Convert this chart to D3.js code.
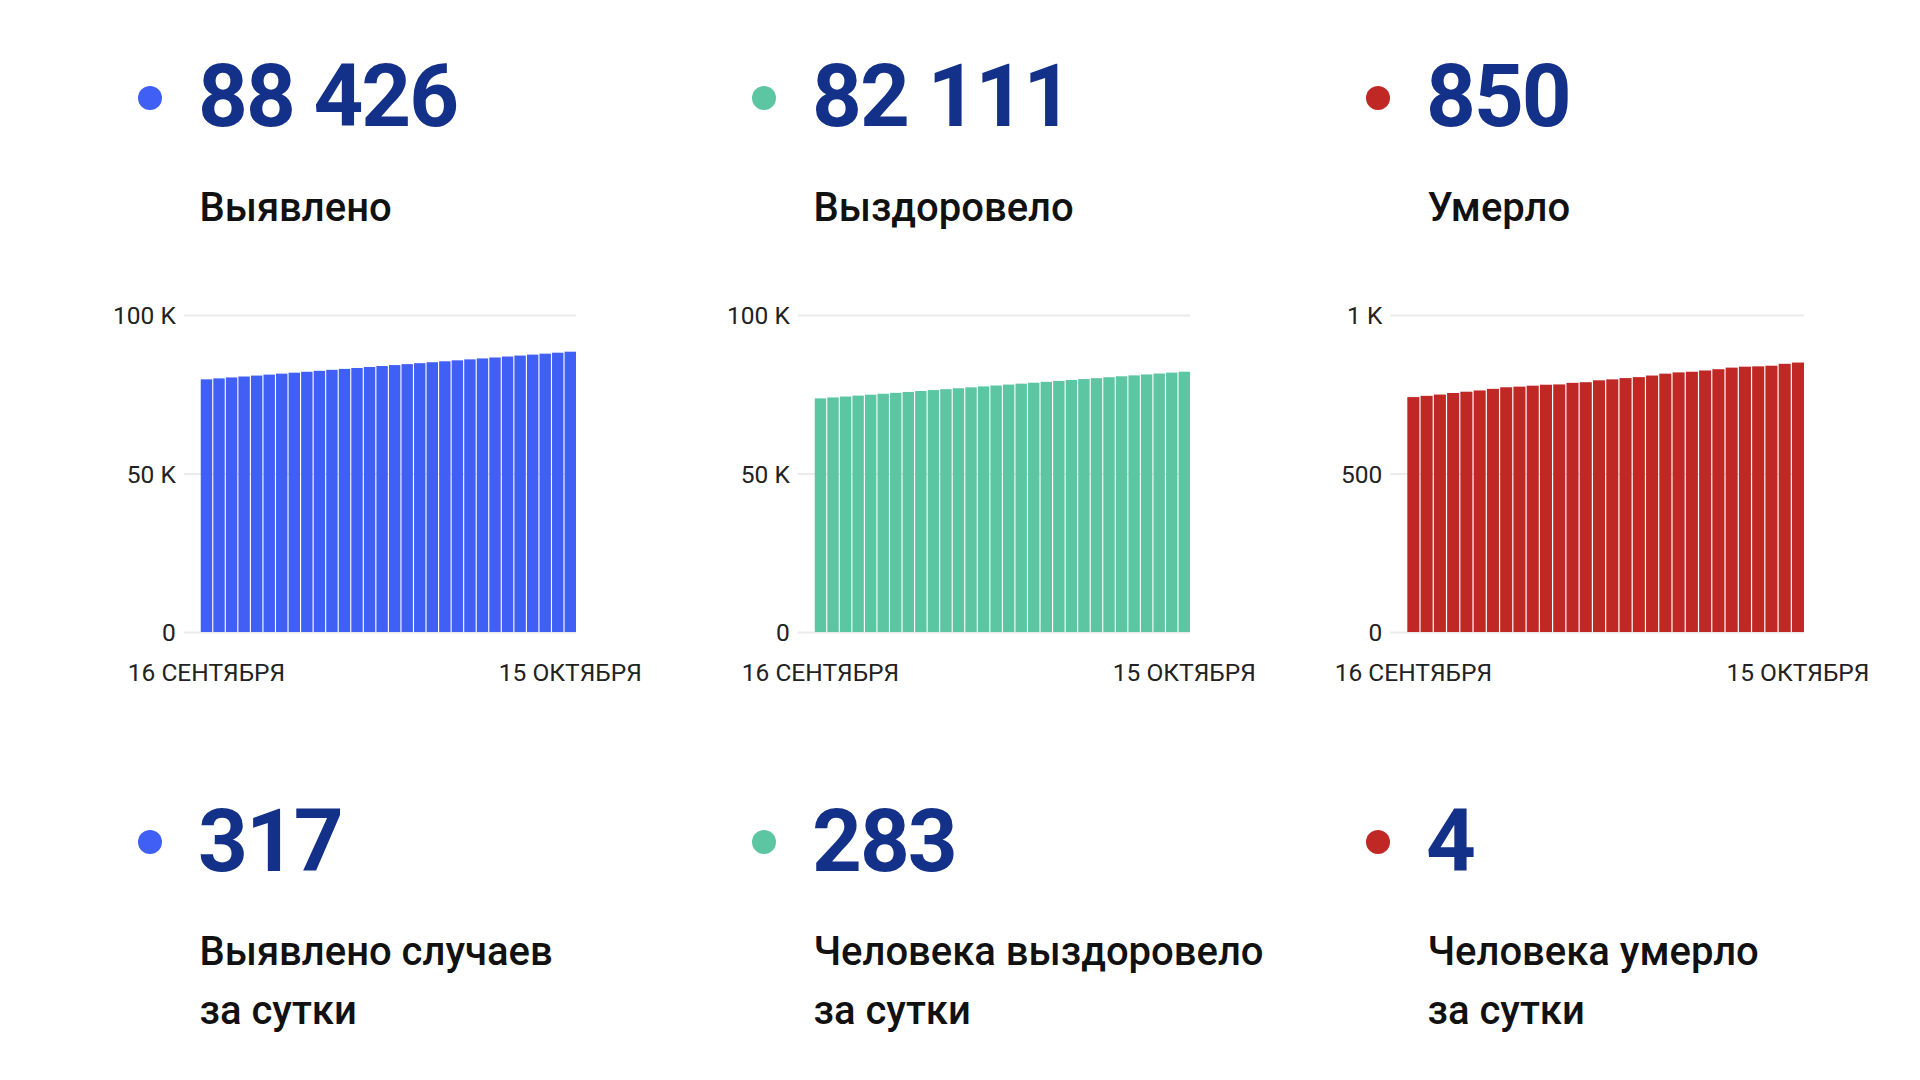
<!DOCTYPE html>
<html><head><meta charset="utf-8">
<script src="https://cdn.jsdelivr.net/npm/d3@7"></script>
<style>
body{margin:0;background:#fff;}
text{font-family:Roboto,"Noto Sans",sans-serif;}
</style></head><body>
<svg id="c" width="1920" height="1080"></svg>
<script>
const dates = ["16.09","17.09","18.09","19.09","20.09","21.09","22.09","23.09","24.09","25.09","26.09","27.09","28.09","29.09","30.09",
  "01.10","02.10","03.10","04.10","05.10","06.10","07.10","08.10","09.10","10.10","11.10","12.10","13.10","14.10","15.10"];
const confirmed = [79700,80010,80300,80600,80890,81190,81500,81800,82090,82390,82700,83000,83290,83590,83900,
  84200,84500,84800,85100,85400,85700,86000,86300,86600,86900,87200,87500,87800,88109,88426];
const recovered = [73700,73990,74280,74570,74860,75150,75440,75730,76020,76310,76600,76890,77180,77470,77760,
  78050,78340,78630,78920,79210,79500,79790,80080,80370,80660,80950,81240,81540,81828,82111];
const deaths = [741,745,749,754,758,762,767,772,774,777,780,781,786,788,794,
  797,801,804,809,815,819,821,825,829,834,837,838,840,846,850];
const totals = ["88 426","82 111","850"];
const totalLabels = ["Выявлено","Выздоровело","Умерло"];
const daily = ["317","283","4"];
const dailyLabels = [["Выявлено случаев","за сутки"],["Человека выздоровело","за сутки"],["Человека умерло","за сутки"]];
const xTickLabels = ["16 СЕНТЯБРЯ","15 ОКТЯБРЯ"];
const yTicksThousands = [0,50000,100000];
const yTickLabelsThousands = ["0","50 K","100 K"];
const yTicksDeaths = [0,500,1000];
const yTickLabelsDeaths = ["0","500","1 K"];
const colors = ["#3f5ff5","#5cc5a2","#bf2824"];

const series = [
  {values: confirmed, ticks: yTicksThousands, labels: yTickLabelsThousands, max: 100000},
  {values: recovered, ticks: yTicksThousands, labels: yTickLabelsThousands, max: 100000},
  {values: deaths, ticks: yTicksDeaths, labels: yTickLabelsDeaths, max: 1000}
];

const svg = d3.select("#c");
svg.append("rect").attr("width",1920).attr("height",1080).attr("fill","#fff");
const colStep = 614;
const navy = "#143189";

function header(g, cy, value, lines, color, baseNum, baseLine1, lineH){
  g.append("circle").attr("cx",150).attr("cy",cy).attr("r",12).attr("fill",color);
  g.append("text").attr("x",198).attr("y",baseNum).text(value)
    .attr("fill",navy).attr("font-size",87).attr("font-weight",700).attr("letter-spacing","-2px");
  lines.forEach((t,i)=>{
    g.append("text").attr("x",199.5).attr("y",baseLine1 + i*lineH).text(t)
      .attr("fill","#111").attr("font-size",40).attr("font-weight",500);
  });
}

series.forEach((s,i)=>{
  const g = svg.append("g").attr("transform",`translate(${i*colStep},0)`);
  header(g, 98, totals[i], [totalLabels[i]], colors[i], 126, 221, 0);
  header(g, 842, daily[i], dailyLabels[i], colors[i], 871, 965, 59);

  const outerLeft = 113, outerRight = 576, top = 315, bottom = 632;
  const ch = g.append("g");
  const tmp = ch.append("g").attr("font-size",24.5);
  let maxW = 0;
  s.labels.forEach(l=>{ const t = tmp.append("text").text(l); maxW = Math.max(maxW, t.node().getComputedTextLength()); });
  tmp.remove();
  const gridLeft = outerLeft + maxW + 8;
  const barLeft = gridLeft + 17;
  const y = d3.scaleLinear().domain([0, s.max]).range([bottom, top]);
  const x = d3.scaleBand().domain(dates).range([barLeft, outerRight]).paddingInner(0.09).paddingOuter(0);

  const yAxis = d3.axisLeft(y).tickValues(s.ticks)
    .tickFormat(d=>s.labels[s.ticks.indexOf(d)])
    .tickSize(-(outerRight-gridLeft)).tickPadding(8);
  const ya = ch.append("g").attr("transform",`translate(${gridLeft},0)`).call(yAxis);
  ya.select(".domain").remove();
  ya.selectAll(".tick line").attr("stroke","#ebebeb").attr("stroke-width",2);
  ya.selectAll(".tick text").attr("fill","#222").attr("font-size",24.5).attr("font-family","Roboto").attr("dy","0.35em");

  ch.append("g").selectAll("rect").data(s.values).join("rect")
    .attr("x",(d,k)=>x(dates[k])).attr("width",x.bandwidth())
    .attr("y",d=>y(d)).attr("height",d=>bottom - y(d))
    .attr("fill",colors[i]);

  const xAxis = d3.axisBottom(x).tickValues([dates[0], dates[dates.length-1]])
    .tickFormat(d=> d===dates[0] ? xTickLabels[0] : xTickLabels[1])
    .tickSize(0).tickPadding(0);
  const xa = ch.append("g").attr("transform",`translate(0,${bottom})`).call(xAxis);
  xa.select(".domain").remove();
  xa.selectAll(".tick text").attr("fill","#222").attr("font-size",24.5).attr("font-family","Roboto")
    .attr("dy",null).attr("y",49);
});
</script>
</body></html>
